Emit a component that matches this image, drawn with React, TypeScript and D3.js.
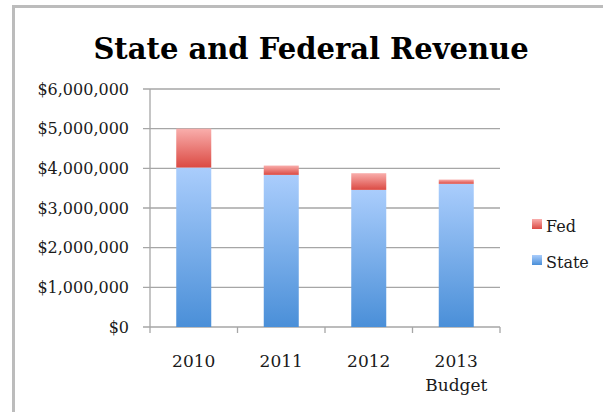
import { scaleBand, scaleLinear } from "d3";

const categories = ["2010", "2011", "2012", "2013\nBudget"];
const stateValues = [4020000, 3835000, 3457000, 3610000];
const fedValues = [980000, 235000, 420000, 107000];
const yTicks = [0, 1000000, 2000000, 3000000, 4000000, 5000000, 6000000];

const font = "'DejaVu Serif', serif";

export default function App() {
  const width = 603;
  const height = 412;
  const left = 150;
  const right = 500;
  const top = 89;
  const bottom = 327;

  const x = scaleBand<string>().domain(categories).range([left, right]).paddingInner(0.6).paddingOuter(0.3);
  const y = scaleLinear().domain([0, 6000000]).range([bottom, top]);
  const step = x.step();
  const money = (v: number) => "$" + v.toLocaleString("en-US");

  return (
    <svg width={width} height={height} style={{ position: "absolute", left: 0, top: 0, background: "#fff" }}>
      <defs>
        <linearGradient id="blue" x1="0" y1="0" x2="0" y2="1">
          <stop offset="0" stopColor="#aacdfc" />
          <stop offset="1" stopColor="#4a8fd8" />
        </linearGradient>
        <linearGradient id="red" x1="0" y1="0" x2="0" y2="1">
          <stop offset="0" stopColor="#f9aeac" />
          <stop offset="1" stopColor="#db4a43" />
        </linearGradient>
      </defs>
      <path d={`M13.5,${height} V6.5 H${width}`} fill="none" stroke="#bcbcbc" strokeWidth={3} />

      <text x={311} y={59} textAnchor="middle" fontFamily={font} fontWeight="bold" fontSize={29} fill="#000">
        State and Federal Revenue
      </text>

      {yTicks.map((t) => (
        <g key={t}>
          <line x1={left - 7} x2={right} y1={y(t)} y2={y(t)} stroke="#a6a6a6" strokeWidth={1.3} />
          <text x={129} y={y(t) + 5.5} textAnchor="end" fontFamily={font} fontSize={16} fill="#1a1a1a">
            {money(t)}
          </text>
        </g>
      ))}
      <line x1={left} x2={left} y1={top} y2={bottom + 6} stroke="#a6a6a6" strokeWidth={1.3} />
      {categories.map((c, i) => (
        <line key={c} x1={left + step * (i + 1)} x2={left + step * (i + 1)} y1={bottom} y2={bottom + 6} stroke="#a6a6a6" strokeWidth={1.3} />
      ))}

      {categories.map((c, i) => {
        const bx = x(c) ?? 0;
        const s = stateValues[i];
        const f = fedValues[i];
        return (
          <g key={c}>
            <rect x={bx} width={x.bandwidth()} y={y(s)} height={y(0) - y(s)} fill="url(#blue)" />
            <rect x={bx} width={x.bandwidth()} y={y(s + f)} height={y(s) - y(s + f)} fill="url(#red)" />
          </g>
        );
      })}

      {categories.map((c) => {
        const cx = (x(c) ?? 0) + x.bandwidth() / 2;
        return c.split("\n").map((line, j) => (
          <text key={c + j} x={cx} y={367 + j * 24} textAnchor="middle" fontFamily={font} fontSize={17} fill="#1a1a1a">
            {line}
          </text>
        ));
      })}

      {["Fed", "State"].map((name, i) => (
        <g key={name}>
          <rect x={532} y={219 + i * 36} width={10} height={10} fill={i === 0 ? "url(#red)" : "url(#blue)"} />
          <text x={546} y={232 + i * 36} fontFamily={font} fontSize={16} fill="#1a1a1a">
            {name}
          </text>
        </g>
      ))}
    </svg>
  );
}
